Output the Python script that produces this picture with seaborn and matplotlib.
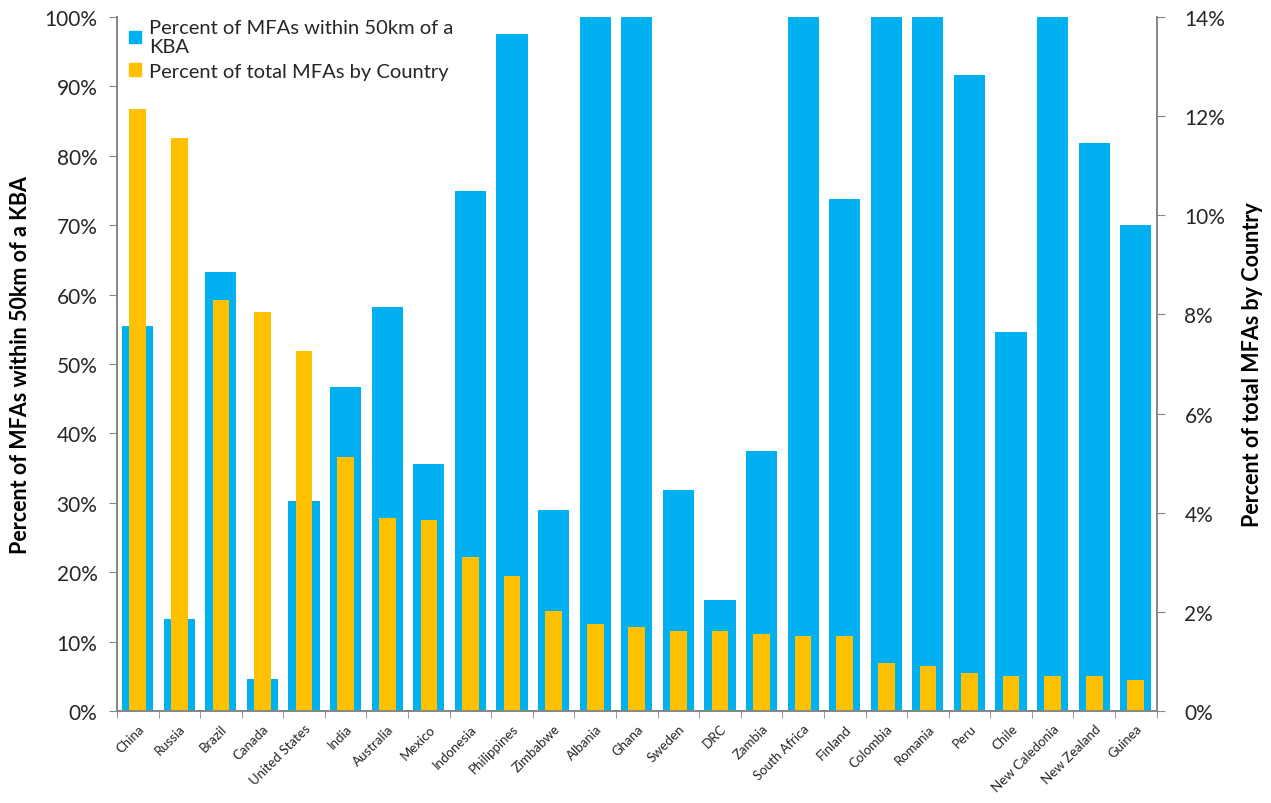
import pandas as pd
import numpy as np
import matplotlib.pyplot as plt
import seaborn as sns
from matplotlib.patches import Patch
from matplotlib.ticker import PercentFormatter, MultipleLocator

# --- data ---
countries = ['China', 'Russia', 'Brazil', 'Canada', 'United States', 'India',
             'Australia', 'Mexico', 'Indonesia', 'Philippines', 'Zimbabwe',
             'Albania', 'Ghana', 'Sweden', 'DRC', 'Zambia', 'South Africa',
             'Finland', 'Colombia', 'Romania', 'Peru', 'Chile',
             'New Caledonia', 'New Zealand', 'Guinea']
pct_near_kba = [55.5, 13.3, 63.3, 4.6, 30.3, 46.7, 58.2, 35.6, 75.0, 97.5,
                29.0, 100, 100, 31.8, 16.0, 37.5, 100, 73.8, 100, 100,
                91.7, 54.6, 100, 81.8, 70.0]
pct_of_total = [12.14, 11.55, 8.3, 8.04, 7.26, 5.12, 3.89, 3.85, 3.1, 2.72,
                2.02, 1.75, 1.69, 1.61, 1.61, 1.55, 1.51, 1.51, 0.97, 0.91,
                0.77, 0.71, 0.71, 0.71, 0.63]

df = pd.DataFrame({'Country': countries,
                   'KBA': pct_near_kba,
                   'Share': pct_of_total})

blue = '#00B0F0'
yellow = '#FFC000'
grey = '#868686'
txt = '#262626'

sns.set_style('white')
plt.rcParams['font.family'] = ['Lato', 'DejaVu Sans']
plt.rcParams['text.color'] = txt

fig = plt.figure(figsize=(12.71, 8.04), dpi=100)
ax = fig.add_axes([0.092, 0.1144, 0.818, 0.8632])
ax2 = ax.twinx()

sns.barplot(data=df, x='Country', y='KBA', color=blue, saturation=1,
            width=0.75, linewidth=0, ax=ax, zorder=1)
sns.barplot(data=df, x='Country', y='Share', color=yellow, saturation=1,
            width=0.4, linewidth=0, ax=ax2, zorder=2)

ax.set_ylim(0, 100)
ax2.set_ylim(0, 14)
ax.set_xlim(-0.5, len(countries) - 0.5)

ax.yaxis.set_major_locator(MultipleLocator(10))
ax.yaxis.set_major_formatter(PercentFormatter(decimals=0))
ax2.yaxis.set_major_locator(MultipleLocator(2))
ax2.yaxis.set_major_formatter(PercentFormatter(decimals=0))

ax.set_ylabel('Percent of MFAs within 50km of a KBA', fontsize=15.5,
              fontweight='bold', labelpad=10, color='black')
ax2.set_ylabel('Percent of total MFAs by Country', fontsize=15.5,
               fontweight='bold', labelpad=12, color='black')
ax.set_xlabel('')
ax2.set_xlabel('')

for a in (ax, ax2):
    for s in a.spines.values():
        s.set_color(grey)
        s.set_linewidth(1.3)
    a.spines['top'].set_visible(False)
    a.grid(False)

ax.tick_params(axis='y', direction='out', length=6, color=grey,
               labelsize=15, labelcolor=txt, left=True, pad=8)
ax2.tick_params(axis='y', direction='out', length=6, color=grey,
                labelsize=15, labelcolor=txt, right=True, pad=14)

# category labels centered, tick marks between categories
ax.set_xticks(range(len(countries)))
ax.set_xticklabels(countries, rotation=45, ha='right',
                   rotation_mode='anchor', fontsize=9.5, color=txt)
ax.tick_params(axis='x', which='major', length=0, pad=8)
ax.set_xticks(np.arange(-0.5, len(countries), 1), minor=True)
ax.tick_params(axis='x', which='minor', direction='out', length=5,
               color=grey, bottom=True)

handles = [Patch(color=blue, label='Percent of MFAs within 50km of a\nKBA'),
           Patch(color=yellow, label='Percent of total MFAs by Country')]
leg = ax2.legend(handles=handles, loc='upper left', frameon=False,
                 fontsize=14.5, handlelength=0.6, handleheight=0.6,
                 handletextpad=0.4, borderaxespad=0.2, labelspacing=0.35,
                 bbox_to_anchor=(0.0, 1.015))

fig.savefig('out.png', dpi=100)
